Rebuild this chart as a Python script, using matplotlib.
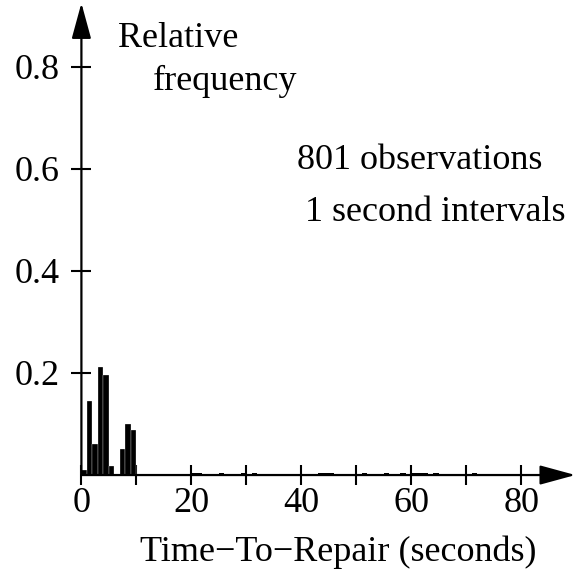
import matplotlib
matplotlib.use("Agg")
import matplotlib.pyplot as plt

# Data: relative frequency per 1-second interval
main_seconds = [0, 1, 2, 3, 4, 5, 6, 7, 8, 9]
main_freq = [0.010, 0.146, 0.061, 0.211, 0.197, 0.018, 0.0, 0.051, 0.100, 0.088]
tail_seconds = [12, 13, 14, 15, 16, 17, 18, 19, 20, 21, 25, 29, 31, 43, 44, 45,
                51, 55, 58, 60, 61, 62, 64, 71]
tail_freq = [0.0025] * 8 + [0.004] * 16

x_major = [0, 20, 40, 60, 80]
x_minor = [10, 30, 50, 70]
y_ticks = [0.2, 0.4, 0.6, 0.8]
y_labels = ["0.2", "0.4", "0.6", "0.8"]

plt.rcParams['font.family'] = ['Liberation Serif', 'DejaVu Serif']
FS = 26

fig = plt.figure(figsize=(5.77, 5.73), dpi=100)
ax = fig.add_axes([0, 0, 1, 1])
ax.set_xlim(-14.8, 90.1)
ax.set_ylim(-0.192, 0.931)

ax.bar(main_seconds, main_freq, width=1.0, align='edge', color='black',
       edgecolor='white', linewidth=0.2, zorder=2)
ax.bar(tail_seconds, tail_freq, width=1.0, align='edge', color='black',
       linewidth=0, zorder=4)

for s in ax.spines.values():
    s.set_visible(False)
ax.spines['left'].set_position(('data', 0))
ax.spines['bottom'].set_position(('data', 0))

ax.set_xticks(x_major)
ax.set_xticklabels([str(v) for v in x_major])
ax.set_xticks(x_minor, minor=True)
ax.set_yticks(y_ticks)
ax.set_yticklabels(y_labels)
ax.tick_params(axis='both', which='both', direction='inout', length=15,
               width=1.5, labelsize=FS)
ax.tick_params(axis='x', pad=1)
ax.tick_params(axis='y', pad=8)

arrow_kw = dict(arrowstyle='-|>,head_length=1.1,head_width=0.3', mutation_scale=20,
                lw=1.6, color='black', shrinkA=0, shrinkB=0)
ax.annotate('', xy=(0, 0.925), xytext=(0, 0), arrowprops=arrow_kw, zorder=3)
ax.annotate('', xy=(89.8, 0), xytext=(0, 0), arrowprops=arrow_kw, zorder=3)

ax.text(6.6, 0.856, "Relative", fontsize=FS, va='center', ha='left')
ax.text(13.0, 0.772, "frequency", fontsize=FS, va='center', ha='left')
ax.text(39.2, 0.616, "801 observations", fontsize=FS, va='center', ha='left')
ax.text(40.6, 0.514, "1 second intervals", fontsize=FS, va='center', ha='left')
ax.text(10.6, -0.151, "Time\u2212To\u2212Repair (seconds)", fontsize=FS, va='center', ha='left')

fig.savefig("out.png", dpi=100)
